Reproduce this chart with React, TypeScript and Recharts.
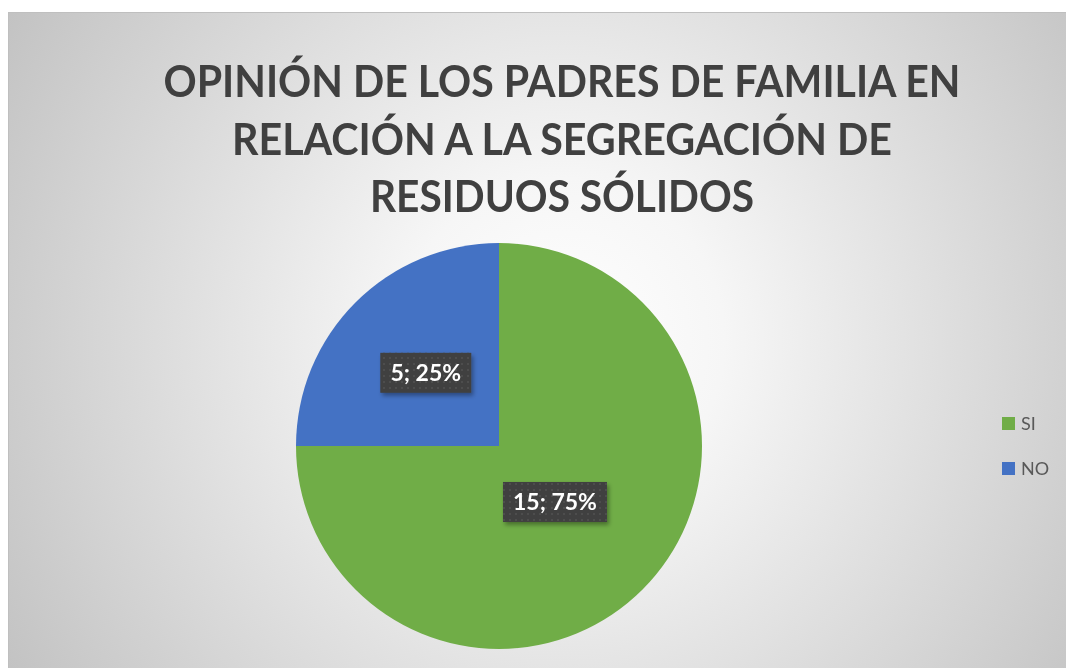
import { PieChart, Pie, Cell, Legend, Customized } from 'recharts';

const categories = ['SI', 'NO'];
const counts = [15, 5];
const titleLines = [
  'OPINIÓN DE LOS PADRES DE FAMILIA EN',
  'RELACIÓN A LA SEGREGACIÓN DE',
  'RESIDUOS SÓLIDOS',
];

const COLORS: Record<string, string> = { SI: '#70AD47', NO: '#4472C4' };
const LABEL_RADIUS: Record<string, number> = { SI: 0.39, NO: 0.51 };
const TITLE_WIDTHS = [797, 660, 384];
const FONT = 'Lato, "Open Sans", sans-serif';

const W = 1058;
const H = 656;

const data = categories.map((name, i) => ({ name, value: counts[i] }));

const RAD = Math.PI / 180;

const charW = (ch: string) => {
  if (ch === ';') return 6;
  if (ch === ' ') return 5;
  if (ch === '%') return 21;
  return 13;
};

const DataLabel = (props: any) => {
  const { cx, cy, midAngle, outerRadius, value, percent, name } = props;
  const r = outerRadius * (LABEL_RADIUS[name] ?? 0.5);
  const x = cx + r * Math.cos(-midAngle * RAD);
  const y = cy + r * Math.sin(-midAngle * RAD);
  const text = `${value}; ${Math.round(percent * 100)}%`;
  const tw = text.split('').reduce((s, c) => s + charW(c), 0);
  const bw = tw + 20;
  const bh = 40;
  return (
    <g>
      <rect x={x - bw / 2} y={y - bh / 2} width={bw} height={bh} fill="#404040" filter="url(#lblShadow)" />
      <rect x={x - bw / 2} y={y - bh / 2} width={bw} height={bh} fill="url(#lblDots)" />
      <text
        x={x}
        y={y + 8}
        textAnchor="middle"
        fill="#ffffff"
        fontFamily={FONT}
        fontWeight={700}
        fontSize={23}
      >
        {text}
      </text>
    </g>
  );
};

const Title = () => (
  <g>
    <defs>
      <filter id="lblShadow" x="-20%" y="-20%" width="150%" height="160%">
        <feDropShadow dx="2" dy="3" stdDeviation="2" floodColor="#000" floodOpacity="0.35" />
      </filter>
      <pattern id="lblDots" width="6" height="6" patternUnits="userSpaceOnUse">
        <rect x="2" y="2" width="2" height="2" fill="#4d4d4d" />
      </pattern>
    </defs>
    {titleLines.map((line, i) => (
      <text
        key={line}
        x={553}
        y={84 + i * 57.5}
        textAnchor="middle"
        fill="#404040"
        fontFamily={FONT}
        fontWeight={700}
        fontSize={43}
        textLength={TITLE_WIDTHS[i]}
        lengthAdjust="spacingAndGlyphs"
      >
        {line}
      </text>
    ))}
  </g>
);

const LegendContent = (props: any) => {
  const items = [...(props.payload || [])].sort(
    (a: any, b: any) => categories.indexOf(a.value) - categories.indexOf(b.value)
  );
  return (
    <div>
      {items.map((p: any) => (
        <div key={p.value} style={{ display: 'flex', alignItems: 'center', height: 20, marginBottom: 25 }}>
          <span style={{ display: 'inline-block', width: 13, height: 13, background: p.color }} />
          <span style={{ marginLeft: 6, fontFamily: FONT, fontSize: 18, color: '#595959' }}>{p.value}</span>
        </div>
      ))}
    </div>
  );
};

export default function App() {
  return (
    <div
      style={{
        position: 'fixed',
        left: 8,
        top: 12,
        width: W,
        height: H,
        boxSizing: 'border-box',
        borderTop: '1px solid #bfbfbf',
        borderLeft: '1px solid #bfbfbf',
        background: 'radial-gradient(circle 650px at 553px 328px, #ffffff 0%, #f6f6f6 25%, #c2c2c2 100%)',
        overflow: 'hidden',
      }}
    >
      <PieChart width={W - 1} height={H - 1} margin={{ top: 0, right: 0, bottom: 0, left: 0 }}>
        <Customized component={Title} />
        <Pie
          data={data}
          dataKey="value"
          nameKey="name"
          cx={490}
          cy={433}
          outerRadius={203}
          startAngle={90}
          endAngle={-270}
          stroke="none"
          labelLine={false}
          label={DataLabel}
          isAnimationActive={false}
        >
          {data.map((d) => (
            <Cell key={d.name} fill={COLORS[d.name]} />
          ))}
        </Pie>
        <Legend
          layout="vertical"
          align="right"
          verticalAlign="middle"
          content={LegendContent}
          wrapperStyle={{ left: 993, top: 400, width: 60 }}
        />
      </PieChart>
    </div>
  );
}
